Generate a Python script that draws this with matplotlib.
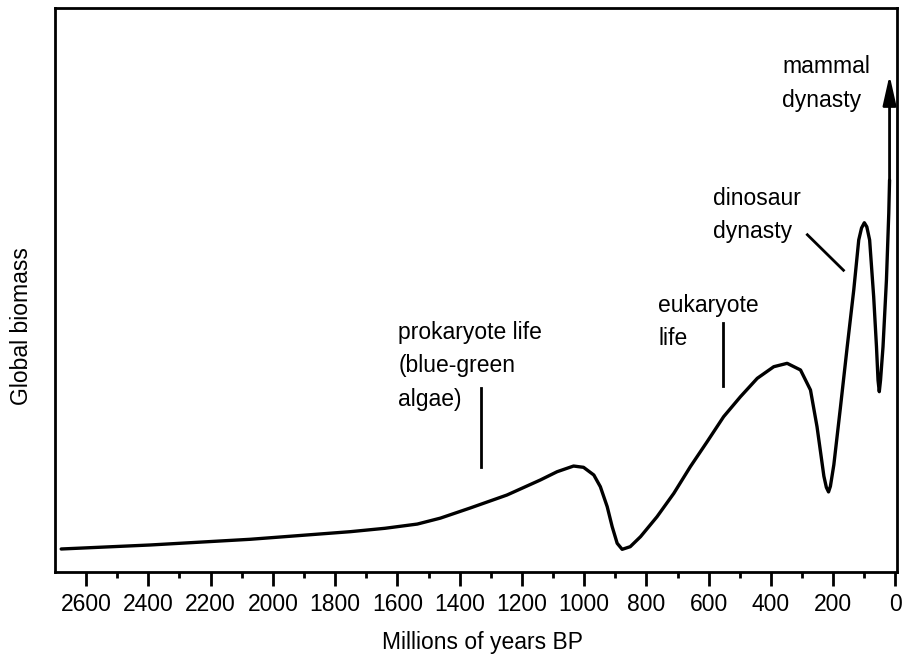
import matplotlib
matplotlib.use('Agg')
import matplotlib.pyplot as plt
import numpy as np

plt.rcParams['font.family'] = ['Liberation Sans', 'DejaVu Sans']

# age in millions of years BP, biomass in arbitrary units (0-100)
age = [2680, 2394, 2073, 1751, 1640, 1536, 1462, 1366, 1248, 1141, 1087, 1034,
       1002, 969, 948, 926, 910, 894, 878, 852, 819, 766, 712, 659, 605, 552,
       498, 444, 391, 348, 305, 273, 252, 240, 230, 222, 215, 209, 198, 177,
       155, 134, 118, 109, 100, 92, 83, 70, 61, 56, 52, 48, 40, 29, 21.5, 19]
biomass = [4.08, 4.79, 5.80, 7.15, 7.75, 8.5, 9.55, 11.35, 13.65, 16.31,
           17.78, 18.79, 18.56, 17.20, 15.12, 11.58, 8.03, 5.09, 4.02, 4.49,
           6.26, 9.80, 13.95, 18.67, 23.10, 27.54, 31.08, 34.34, 36.40, 37.00,
           35.82, 32.27, 25.76, 21.0, 17.0, 15.0, 14.2, 15.2, 19.0, 29.08,
           39.95, 50.0, 58.87, 60.99, 61.93, 61.2, 58.87, 48.81, 39.95, 34.0,
           31.97, 34.0, 39.95, 51.77, 63.6, 69.5]

arrow_top = 88.1

# pointer lines: (x0, y0, x1, y1)
pointers = [(1330, 18.6, 1330, 32.6),
            (553, 33.0, 553, 44.1),
            (283, 59.8, 167, 53.5)]

labels = ['prokaryote life\n(blue-green\nalgae)', 'eukaryote\nlife',
          'dinosaur\ndynasty', 'mammal\ndynasty']
label_pos = [(1597, 44.5), (762, 49.3), (585, 68.3), (363, 91.6)]

xticks_major = np.arange(0, 2601, 200)
xticks_minor = np.arange(100, 2700, 200)

fig = plt.figure(figsize=(9.07, 6.58), dpi=100)
ax = fig.add_axes([0.0606, 0.1307, 0.9284, 0.8571])

ax.plot(age, biomass, color='black', lw=2.4, solid_joinstyle='round',
        solid_capstyle='round')

# mammal arrow
ax.annotate('', xy=(age[-1], arrow_top), xytext=(age[-1], biomass[-1]),
            arrowprops=dict(arrowstyle='-|>,head_length=0.4,head_width=0.09',
                            color='black', lw=2.0, mutation_scale=45,
                            shrinkA=0, shrinkB=0))

for x0, y0, x1, y1 in pointers:
    ax.plot([x0, x1], [y0, y1], color='black', lw=2)

for txt, (x, y) in zip(labels, label_pos):
    ax.text(x, y, txt, fontsize=16.5, va='top', ha='left', linespacing=1.58)

ax.set_xlim(2700, -5)
ax.set_ylim(0, 100)
ax.set_xticks(xticks_major)
ax.set_xticks(xticks_minor, minor=True)
ax.set_yticks([])
ax.tick_params(axis='x', which='major', direction='out', length=10, width=2,
               labelsize=16.5, pad=5)
ax.tick_params(axis='x', which='minor', direction='out', length=4, width=2)
for s in ax.spines.values():
    s.set_linewidth(2)

fig.text(482 / 907, 1 - 642 / 658, 'Millions of years BP', fontsize=16.5,
         ha='center', va='center')
fig.text(22 / 907, 1 - 326 / 658, 'Global biomass', fontsize=16.5,
         ha='center', va='center', rotation=90)

fig.savefig('out.png', dpi=100)
